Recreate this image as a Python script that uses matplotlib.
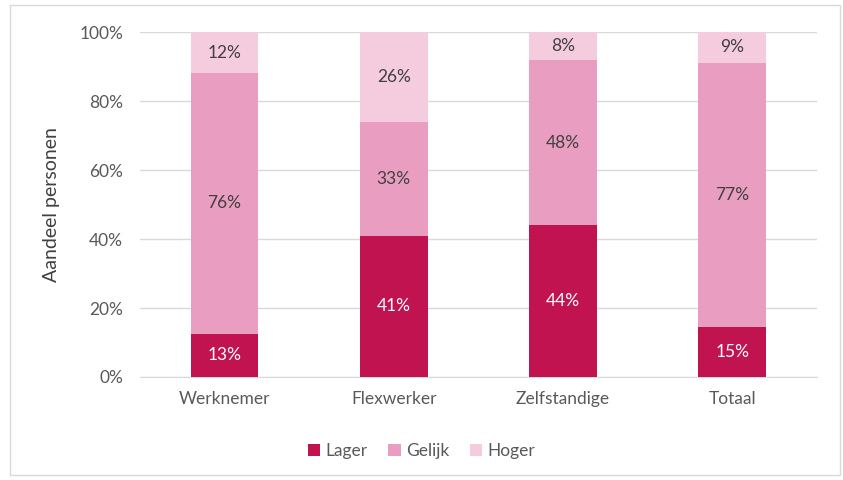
import matplotlib.pyplot as plt
import numpy as np
from matplotlib.patches import Rectangle

plt.rcParams['font.family'] = ['Lato', 'DejaVu Sans']

categories = ['Werknemer', 'Flexwerker', 'Zelfstandige', 'Totaal']
lager = [12.6, 41.0, 44.0, 14.6]
gelijk = [75.6, 33.0, 48.0, 76.6]
hoger = [11.8, 26.0, 8.0, 8.8]
series = ['Lager', 'Gelijk', 'Hoger']
colors = ['#C0134F', '#E99EC1', '#F5CBDE']
text_colors = ['white', '#404040', '#404040']

fig = plt.figure(figsize=(8.43, 4.8), dpi=100)
ax = fig.add_axes([0.166, 0.2146, 0.803, 0.7184])

x = np.arange(len(categories))
bottom = np.zeros(len(categories))
for vals, name, col, tc in zip([lager, gelijk, hoger], series, colors, text_colors):
    vals = np.array(vals)
    bars = ax.bar(x, vals, 0.4, bottom=bottom, color=col, label=name, zorder=3)
    for xi, b, v in zip(x, bottom, vals):
        ytxt = min(b + v / 2, (b + 100) / 2)
        ax.text(xi, ytxt, '%d%%' % round(v), ha='center', va='center',
                color=tc, fontsize=12.5, zorder=4)
    bottom += vals

ax.set_xlim(-0.5, len(categories) - 0.5)
ax.set_ylim(0, 100)
ax.set_yticks(np.arange(0, 101, 20))
ax.set_yticklabels(['%d%%' % v for v in range(0, 101, 20)])
ax.set_xticks(x)
ax.set_xticklabels(categories)
ax.yaxis.grid(True, color='#D9D9D9', linewidth=1, zorder=0)
for s in ['top', 'right', 'left']:
    ax.spines[s].set_visible(False)
ax.spines['bottom'].set_color('#D9D9D9')
ax.tick_params(axis='both', length=0, colors='#595959', labelsize=12.5)
ax.tick_params(axis='y', pad=12)
ax.tick_params(axis='x', pad=10)
ax.set_ylabel('Aandeel personen', fontsize=14, color='#404040', labelpad=14)

leg = fig.legend(loc='center', bbox_to_anchor=(0.5, 0.06), ncol=3, frameon=False,
                 fontsize=12.5, handlelength=0.7, handleheight=0.7, handletextpad=0.3,
                 columnspacing=1.2, labelcolor='#595959')

fig.patches.append(Rectangle((0.012, 0.01), 0.985, 0.98, transform=fig.transFigure,
                             fill=False, edgecolor='#D9D9D9', linewidth=1))

fig.savefig('out.png', dpi=100)
